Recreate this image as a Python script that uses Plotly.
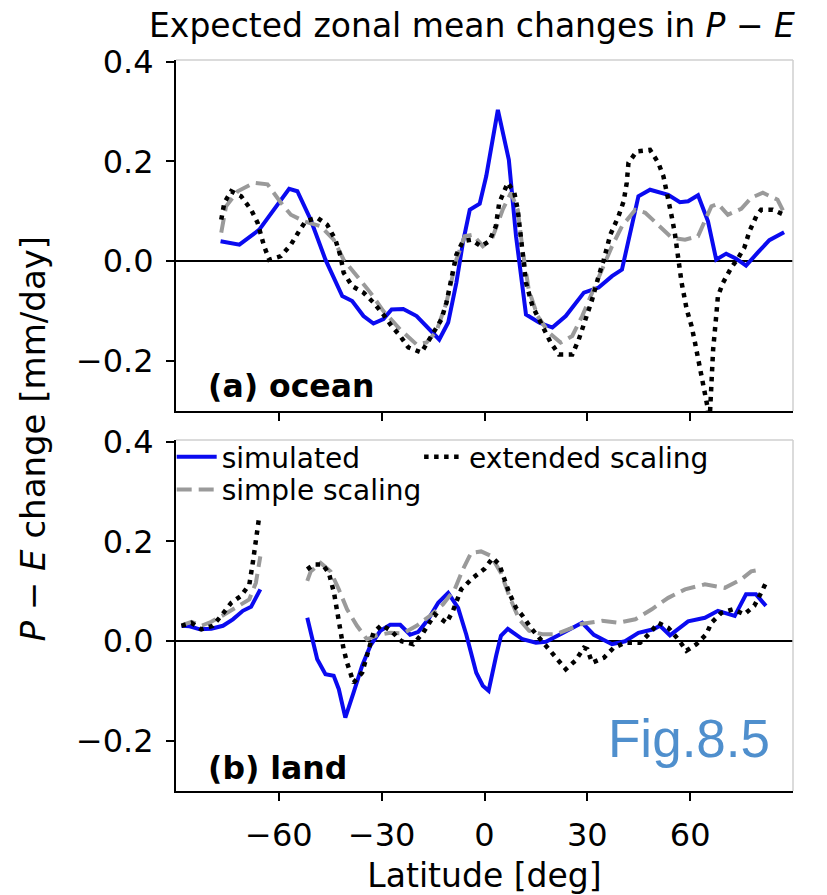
import plotly.graph_objects as go

# ---------------- data ----------------
# Panel (a) ocean
OCEAN_SIM_LAT = [-77.0, -71.5, -65.7, -59.4, -57.0, -54.6, -50.7, -46.4, -41.5, -38.6, -35.3, -32.4,
                 -29.5, -27.1, -23.7, -19.8, -15.9, -13.2, -10.6, -8.2, -6.3, -4.3, -1.4, 0.5, 3.9,
                 7.1, 9.2, 12.1, 15.9, 19.8, 23.7, 29.0, 33.3, 37.2, 40.1, 42.5, 44.9, 48.3, 53.6,
                 57.0, 59.4, 62.3, 65.2, 67.6, 70.5, 73.4, 76.3, 79.7, 83.1, 87.4]
OCEAN_SIM = [0.040, 0.033, 0.063, 0.123, 0.145, 0.140, 0.083, 0.003, -0.070, -0.080, -0.110, -0.125,
             -0.116, -0.097, -0.096, -0.110, -0.137, -0.157, -0.123, -0.043, 0.037, 0.103, 0.115, 0.170, 0.303,
             0.203, 0.050, -0.107, -0.123, -0.133, -0.110, -0.063, -0.053, -0.030, -0.017, 0.060, 0.130, 0.143, 0.133,
             0.118, 0.120, 0.132, 0.080, 0.003, 0.015, 0.005, -0.009, 0.017, 0.042, 0.058]

OCEAN_SIMPLE_LAT = [-76.8, -75.4, -72.0, -67.2, -63.3, -59.4, -56.5, -52.7, -47.8, -44.0, -41.1, -37.2,
                    -33.3, -29.5, -24.6, -19.8, -16.9, -14.0, -11.1, -8.2, -5.8, -3.4, -0.5, 2.2, 5.3,
                    7.7, 9.7, 11.1, 12.9, 15.5, 18.8, 22.2, 25.6, 28.5, 31.4, 34.3, 37.2, 40.1, 44.0,
                    46.9, 50.7, 54.6, 58.5, 62.3, 66.2, 68.1, 71.0, 74.9, 77.8, 81.2, 85.5, 87.4]
OCEAN_SIMPLE = [0.057, 0.110, 0.140, 0.157, 0.154, 0.117, 0.093, 0.080, 0.070, 0.043, 0.003, -0.030,
                -0.063, -0.100, -0.137, -0.167, -0.163, -0.140, -0.083, 0.003, 0.050, 0.053, 0.030, 0.045, 0.103,
                0.137, 0.103, 0.023, -0.057, -0.110, -0.143, -0.163, -0.150, -0.110, -0.063, -0.017, 0.030, 0.070, 0.103,
                0.097, 0.073, 0.047, 0.043, 0.050, 0.110, 0.115, 0.093, 0.105, 0.127, 0.137, 0.123, 0.097]

OCEAN_EXT_LAT = [-76.8, -75.9, -73.9, -71.0, -68.1, -66.2, -64.3, -62.8, -59.4, -56.5, -54.1, -52.2,
                 -48.8, -45.9, -43.5, -42.0, -41.1, -38.6, -35.3, -32.4, -29.5, -27.1, -24.6, -22.2,
                 -18.4, -15.0, -12.6, -11.1, -9.7, -8.2, -6.3, -3.9, -1.0, 1.4, 3.3, 4.3, 6.8, 8.7,
                 9.7, 11.1, 12.1, 14.0, 17.4, 19.3, 21.7, 25.6, 27.5, 29.5, 31.4, 33.3, 34.8, 36.7,
                 39.1, 40.6, 41.5, 42.0, 44.4, 48.3, 50.7, 52.2, 53.1, 54.6, 55.5, 56.5, 57.5, 59.0,
                 60.4, 61.4, 62.3, 63.3, 64.3, 65.0, 65.6, 66.2, 66.7, 67.6, 68.1, 69.6, 72.0, 73.9,
                 75.8, 77.3, 79.3, 80.7, 84.1, 87.4]
OCEAN_EXT = [0.083, 0.117, 0.140, 0.130, 0.103, 0.077, 0.030, 0.003, 0.010, 0.033, 0.060, 0.080,
             0.087, 0.073, 0.043, 0.010, -0.023, -0.050, -0.063, -0.083, -0.107, -0.130, -0.150, -0.173,
             -0.183, -0.143, -0.117, -0.083, -0.037, 0.013, 0.040, 0.043, 0.030, 0.040, 0.070, 0.117, 0.157, 0.137,
             0.103, 0.023, -0.043, -0.090, -0.137, -0.163, -0.187, -0.187, -0.157, -0.117, -0.077, -0.030, 0.003, 0.053,
             0.090, 0.120, 0.157, 0.197, 0.220, 0.223, 0.197, 0.170, 0.143, 0.090, 0.057, 0.003, -0.043, -0.097,
             -0.130, -0.163, -0.197, -0.223, -0.263, -0.290, -0.330, -0.243, -0.177, -0.110, -0.070, -0.043, -0.013, 0.005,
             0.027, 0.060, 0.090, 0.103, 0.103, 0.093]

# Panel (b) land  (None = gap in the data)
LAND_SIM_LAT = [-88.4, -86.0, -83.1, -79.7, -76.3, -73.4, -70.5, -68.1, -65.4, -58.0,
                -51.7, -50.2, -48.8, -46.4, -44.0, -42.5, -40.6, -38.2, -35.7, -33.3, -30.4, -27.5,
                -24.6, -21.7, -19.3, -16.4, -13.5, -10.6, -7.7, -5.3, -2.4, -0.5, 1.2, 3.4, 4.8,
                6.8, 11.1, 15.0, 17.9, 22.7, 28.5, 31.9, 37.2, 41.0, 44.9, 49.3, 51.2, 54.1, 56.5,
                59.4, 64.3, 68.1, 73.0, 76.3, 79.2, 82.1]
LAND_SIM = [0.031, 0.030, 0.024, 0.025, 0.031, 0.044, 0.061, 0.069, 0.104, None,
            0.047, 0.004, -0.036, -0.066, -0.069, -0.096, -0.153, -0.103, -0.049, -0.009, 0.021, 0.033,
            0.033, 0.013, 0.019, 0.044, 0.077, 0.097, 0.067, 0.013, -0.063, -0.089, -0.099, -0.029, 0.011,
            0.025, 0.004, -0.003, -0.001, 0.016, 0.037, 0.013, -0.006, 0.000, 0.017, 0.024, 0.031, 0.012, 0.025,
            0.040, 0.047, 0.061, 0.051, 0.094, 0.094, 0.071]

LAND_SIMPLE_LAT = [-88.4, -85.5, -82.6, -79.7, -75.8, -71.9, -68.6, -66.7, -65.4, -58.0,
                   -51.7, -50.7, -47.8, -44.9, -42.5, -40.1, -37.2, -34.3, -31.4, -27.5, -23.7, -19.8,
                   -15.9, -12.1, -8.7, -6.3, -3.9, -1.0, 1.9, 4.8, 7.2, 10.1, 13.0, 16.9, 20.8, 24.6,
                   28.5, 34.3, 39.1, 44.0, 48.8, 53.6, 58.5, 64.3, 70.1, 74.9, 77.8, 80.7]
LAND_SIMPLE = [0.032, 0.039, 0.031, 0.039, 0.054, 0.071, 0.084, 0.117, 0.170, None,
               0.121, 0.140, 0.157, 0.140, 0.104, 0.064, 0.031, 0.004, 0.012, 0.017, 0.016, 0.031,
               0.051, 0.074, 0.104, 0.144, 0.177, 0.180, 0.171, 0.137, 0.091, 0.044, 0.021, 0.014, 0.014, 0.024,
               0.035, 0.041, 0.037, 0.044, 0.064, 0.087, 0.104, 0.114, 0.107, 0.124, 0.140, 0.144]

LAND_EXT_LAT = [-88.4, -85.5, -82.6, -79.3, -76.8, -73.9, -71.0, -68.6, -67.6, -66.7, -65.7, -58.0,
                -51.7, -49.8, -47.3, -45.4, -43.9, -43.0, -42.0, -41.1, -40.1, -38.2, -35.7, -33.8,
                -32.4, -30.0, -27.1, -24.2, -20.8, -17.9, -14.5, -11.1, -9.2, -6.8, -3.4, 0.0, 2.4,
                4.3, 5.8, 7.2, 9.2, 11.1, 13.5, 15.9, 18.8, 21.3, 23.7, 26.5, 29.0, 30.0, 31.4, 34.8,
                37.7, 41.0, 45.4, 48.3, 50.7, 53.6, 56.5, 58.9, 61.8, 64.7, 66.2, 69.1, 72.5, 75.8,
                78.7, 80.7, 82.1]
LAND_EXT = [0.031, 0.037, 0.024, 0.031, 0.051, 0.077, 0.091, 0.114, 0.157, 0.197, 0.251, None,
            0.144, 0.154, 0.154, 0.137, 0.097, 0.057, 0.017, -0.016, -0.043, -0.083, -0.063, -0.016,
            0.017, 0.033, 0.020, 0.000, -0.006, 0.017, 0.054, 0.037, 0.061, 0.104, 0.127, 0.145, 0.167,
            0.154, 0.121, 0.097, 0.067, 0.051, 0.027, 0.007, -0.016, -0.036, -0.056, -0.039, -0.013, -0.016, -0.043, -0.033,
            -0.013, -0.003, -0.003, 0.017, 0.037, 0.027, 0.004, -0.019, -0.006, 0.014, 0.037, 0.057, 0.064, 0.054,
            0.071, 0.097, 0.117]

X_TICKS = [-60, -30, 0, 30, 60]
X_TICK_TEXT = ["\u221260", "\u221230", "0", "30", "60"]
Y_TICKS = [-0.2, 0.0, 0.2, 0.4]
Y_TICK_TEXT = ["\u22120.2", "0.0", "0.2", "0.4"]

SERIES_NAMES = ["simulated", "simple scaling", "extended scaling"]

# ---------------- styling ----------------
FONT = "DejaVu Sans"
BLUE = "#0a0af0"
GRAY = "#9a9a9a"
BLACK = "#000000"
sim_line = dict(color=BLUE, width=4)
simple_line = dict(color=GRAY, width=4, dash="15px,7px")
ext_line = dict(color=BLACK, width=4.5, dash="4.5px,5.5px")

fig = go.Figure()

# ocean panel
fig.add_trace(go.Scatter(x=OCEAN_SIM_LAT, y=OCEAN_SIM, mode="lines", line=sim_line,
                         showlegend=False, xaxis="x", yaxis="y"))
fig.add_trace(go.Scatter(x=OCEAN_SIMPLE_LAT, y=OCEAN_SIMPLE, mode="lines", line=simple_line,
                         showlegend=False, xaxis="x", yaxis="y"))
fig.add_trace(go.Scatter(x=OCEAN_EXT_LAT, y=OCEAN_EXT, mode="lines", line=ext_line,
                         showlegend=False, xaxis="x", yaxis="y"))
# land panel
fig.add_trace(go.Scatter(x=LAND_SIM_LAT, y=LAND_SIM, mode="lines", line=sim_line, connectgaps=False,
                         name=SERIES_NAMES[0], legend="legend", xaxis="x2", yaxis="y2"))
fig.add_trace(go.Scatter(x=LAND_SIMPLE_LAT, y=LAND_SIMPLE, mode="lines", line=simple_line, connectgaps=False,
                         name=SERIES_NAMES[1], legend="legend3", xaxis="x2", yaxis="y2"))
fig.add_trace(go.Scatter(x=LAND_EXT_LAT, y=LAND_EXT, mode="lines", line=ext_line, connectgaps=False,
                         name=SERIES_NAMES[2], legend="legend2", xaxis="x2", yaxis="y2"))

tickfont = dict(family=FONT, size=32, color="black")
xcommon = dict(range=[-90, 90], tickvals=X_TICKS, ticktext=X_TICK_TEXT, ticks="outside", ticklen=8,
               tickwidth=2, tickcolor="black", showline=True, linecolor="black", linewidth=2,
               showgrid=False, zeroline=False, tickfont=tickfont, automargin=False)
ycommon = dict(range=[-0.3, 0.403], tickvals=Y_TICKS, ticktext=Y_TICK_TEXT, ticks="outside", ticklen=8,
               tickwidth=2, tickcolor="black", showline=True, linecolor="black", linewidth=2,
               showgrid=False, zeroline=True, zerolinecolor="black", zerolinewidth=1.5,
               tickfont=tickfont, ticklabelstandoff=6, automargin=False)

legfont = dict(family=FONT, size=28, color="black")
legcommon = dict(xanchor="left", yanchor="middle", bgcolor="rgba(0,0,0,0)", borderwidth=0,
                 font=legfont, itemwidth=40, orientation="v")

fig.update_layout(
    width=827, height=895,
    margin=dict(l=176, r=34, t=60, b=104, autoexpand=False),
    paper_bgcolor="white", plot_bgcolor="white",
    xaxis=dict(domain=[0, 1], anchor="y", showticklabels=False, **xcommon),
    xaxis2=dict(domain=[0, 1], anchor="y2", showticklabels=True, ticklabelstandoff=7,
                title=dict(text="Latitude [deg]", font=dict(family=FONT, size=33, color="black"), standoff=17),
                **xcommon),
    yaxis=dict(domain=[0.520, 1], anchor="x", **ycommon),
    yaxis2=dict(domain=[0, 0.480], anchor="x2", **ycommon),
    legend=dict(x=-0.007, y=0.457, **legcommon),
    legend2=dict(x=0.394, y=0.457, **legcommon),
    legend3=dict(x=-0.007, y=0.412, **legcommon),
    showlegend=True,
)

# light top/right frame lines
for xr, yr in [("x domain", "y domain"), ("x2 domain", "y2 domain")]:
    fig.add_shape(type="line", xref=xr, yref=yr, x0=0, x1=1, y0=1, y1=1,
                  line=dict(color="#cfcfcf", width=1.5))
    fig.add_shape(type="line", xref=xr, yref=yr, x0=1, x1=1, y0=0, y1=1,
                  line=dict(color="#cfcfcf", width=1.5))

# title
fig.add_annotation(text="Expected zonal mean changes in <i>P</i> \u2212 <i>E</i>",
                   xref="paper", yref="paper", x=0.48, y=1.047, xanchor="center", yanchor="middle",
                   showarrow=False, font=dict(family=FONT, size=33, color="black"))
# y label
fig.add_annotation(text="<i>P</i> \u2212 <i>E</i> change [mm/day]", textangle=-90,
                   xref="paper", yref="paper", x=-0.232, y=0.482, xanchor="center", yanchor="middle",
                   showarrow=False, font=dict(family=FONT, size=34, color="black"))
# panel labels
fig.add_annotation(text="<b>(a) ocean</b>", xref="paper", yref="paper", x=0.049, y=0.554,
                   xanchor="left", yanchor="middle", showarrow=False,
                   font=dict(family=FONT, size=31.5, color="black"))
fig.add_annotation(text="<b>(b) land</b>", xref="paper", yref="paper", x=0.049, y=0.0315,
                   xanchor="left", yanchor="middle", showarrow=False,
                   font=dict(family=FONT, size=31.5, color="black"))
# figure tag
fig.add_annotation(text="Fig.8.5", xref="paper", yref="paper", x=0.831, y=0.0718,
                   xanchor="center", yanchor="middle", showarrow=False,
                   font=dict(family="Liberation Sans", size=53, color="#4f8fcd"))

fig.write_html("out.html")
